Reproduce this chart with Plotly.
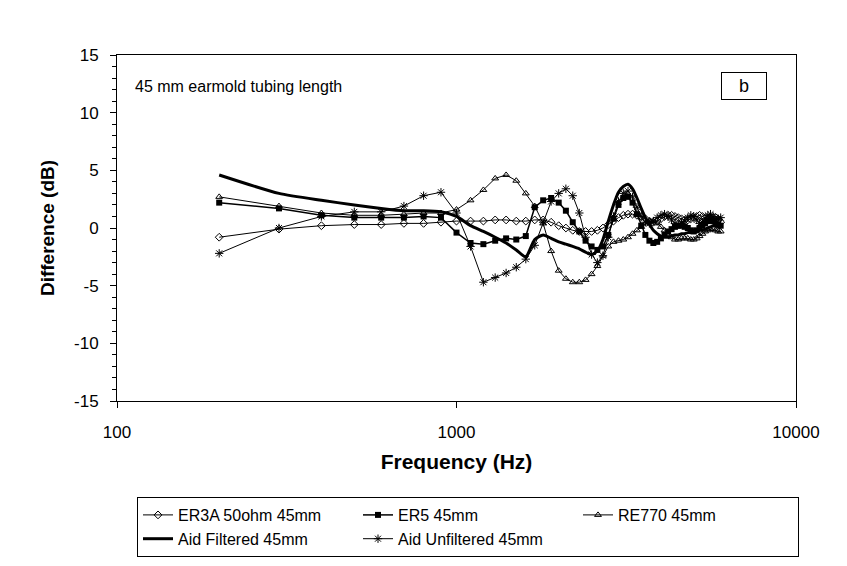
import plotly.graph_objects as go

freq = [200, 300, 400, 500, 600, 700, 800, 900, 1000, 1100, 1200, 1300, 1400, 1500,
        1600, 1700, 1800, 1900, 2000, 2100, 2200, 2300, 2400, 2500, 2600, 2700, 2800,
        2900, 3000, 3100, 3200, 3300, 3400, 3500, 3600, 3700, 3800, 3900, 4000, 4100,
        4200, 4300, 4400, 4500, 4600, 4700, 4800, 4900, 5000, 5100, 5200, 5300, 5400,
        5500, 5600, 5700, 5800, 5900, 6000]

er3a = [-0.8, -0.1, 0.2, 0.3, 0.3, 0.4, 0.4, 0.5, 0.6, 0.6, 0.6, 0.7, 0.7, 0.6,
        0.6, 0.7, 0.7, 0.5, 0.2, 0.0, -0.2, -0.3, -0.3, -0.3, -0.2, 0.0, 0.3,
        0.6, 0.9, 1.1, 1.2, 1.2, 1.1, 1.0, 0.8, 0.6, 0.5, 0.6, 0.8, 1.0,
        1.1, 1.1, 1.0, 0.9, 0.8, 0.7, 0.7, 0.8, 0.9, 1.0, 1.1, 1.0, 0.9,
        0.8, 0.8, 0.9, 0.9, 0.7, 0.5]

er5 = [2.2, 1.7, 1.1, 0.9, 0.9, 0.9, 1.0, 0.9, -0.4, -1.3, -1.4, -1.1, -0.9, -1.0,
       -0.7, 1.8, 2.4, 2.6, 2.2, 1.5, 0.5, -0.3, -1.1, -1.6, -1.9, -1.6, -0.6,
       0.8, 2.0, 2.6, 2.7, 2.2, 1.2, 0.2, -0.6, -1.1, -1.3, -1.2, -0.9, -0.6,
       -0.3, -0.1, 0.1, 0.2, 0.2, 0.1, 0.0, -0.2, -0.3, -0.2, 0.0, 0.2, 0.4,
       0.6, 0.7, 0.6, 0.4, 0.3, 0.2]

re770 = [2.7, 1.9, 1.3, 1.1, 1.1, 1.2, 1.3, 1.3, 1.6, 2.4, 3.3, 4.3, 4.6, 4.1,
         3.0, 1.9, 0.4, -2.0, -3.7, -4.4, -4.7, -4.7, -4.5, -4.0, -3.3, -2.4, -1.6,
         -1.2, -1.1, -1.0, -0.8, -0.5, -0.2, 0.1, 0.4, 0.6, 0.6, 0.4, 0.1, -0.2,
         -0.5, -0.8, -1.0, -1.0, -0.9, -0.9, -0.9, -1.0, -1.0, -0.9, -0.7, -0.5, -0.3,
         -0.2, -0.1, -0.1, -0.2, -0.3, -0.3]

aid_filtered = [4.6, 3.0, 2.4, 2.0, 1.7, 1.5, 1.5, 1.4, 1.0, 0.2, -0.3, -0.8, -1.3, -1.9,
                -2.5, -1.0, -0.6, -0.9, -1.2, -1.4, -1.6, -1.8, -2.1, -2.3, -2.0, -1.0, 0.6,
                2.0, 3.1, 3.6, 3.8, 3.4, 2.6, 1.7, 0.9, 0.3, -0.2, -0.5, -0.7, -0.8,
                -0.8, -0.7, -0.6, -0.6, -0.5, -0.5, -0.4, -0.4, -0.3, -0.3, -0.2, -0.2, -0.1,
                0.0, 0.1, 0.2, 0.2, 0.1, 0.0]

aid_unfiltered = [-2.2, 0.0, 1.0, 1.4, 1.4, 1.9, 2.8, 3.1, 1.3, -1.6, -4.7, -4.3, -3.9, -3.4,
                  -2.7, -1.5, 0.5, 2.3, 3.0, 3.4, 2.8, 1.3, -0.8, -2.3, -3.0, -2.4, -0.8,
                  1.0, 2.3, 3.0, 3.2, 2.7, 1.8, 1.0, 0.5, 0.4, 0.6, 0.9, 1.1, 1.2,
                  1.0, 0.7, 0.4, 0.3, 0.4, 0.6, 0.9, 1.1, 1.0, 0.7, 0.4, 0.5, 0.8,
                  1.1, 1.2, 1.0, 0.7, 0.8, 0.9]

names = ["ER3A 50ohm 45mm", "ER5 45mm", "RE770 45mm", "Aid Filtered 45mm", "Aid Unfiltered 45mm"]

y_ticks = [-15, -10, -5, 0, 5, 10, 15]
y_ticktext = ["-15", "-10", "-5", "0", "5", "10", "15"]
x_ticks = [100, 1000, 10000]
x_ticktext = ["100", "1000", "10000"]

FONT = "Liberation Sans, Arial, sans-serif"
fig = go.Figure()

fig.add_trace(go.Scatter(x=freq, y=er3a, name=names[0], mode="lines+markers",
                         line=dict(color="black", width=1),
                         marker=dict(symbol="diamond-open", size=6, color="black",
                                     line=dict(color="black", width=1))))
fig.add_trace(go.Scatter(x=freq, y=er5, name=names[1], mode="lines+markers",
                         line=dict(color="black", width=1.5),
                         marker=dict(symbol="square", size=6, color="black")))
fig.add_trace(go.Scatter(x=freq, y=re770, name=names[2], mode="lines+markers",
                         line=dict(color="black", width=1),
                         marker=dict(symbol="triangle-up-open", size=6, color="black",
                                     line=dict(color="black", width=1))))
fig.add_trace(go.Scatter(x=freq, y=aid_filtered, name=names[3], mode="lines",
                         line=dict(color="black", width=3, shape="spline", smoothing=0.6)))
fig.add_trace(go.Scatter(x=freq, y=aid_unfiltered, name=names[4], mode="lines+markers",
                         line=dict(color="black", width=1),
                         marker=dict(symbol="asterisk-open", size=7, color="black",
                                     line=dict(color="black", width=1))))

fig.update_layout(
    width=847, height=566,
    margin=dict(l=117, r=51, t=55, b=165),
    paper_bgcolor="white", plot_bgcolor="white",
    font=dict(family=FONT, color="black", size=15),
    showlegend=True,
    legend=dict(orientation="h", xref="container", yref="container",
                x=137 / 847, y=1 - 497 / 566, xanchor="left", yanchor="top",
                entrywidth=175, entrywidthmode="pixels",
                bordercolor="black", borderwidth=1, bgcolor="white",
                font=dict(size=16, family=FONT), itemwidth=30,
                traceorder="normal"),
    annotations=[
        dict(text="45 mm earmold tubing length", x=(133 - 117) / 679, y=(401 - 87) / 346,
             xref="paper", yref="paper", xanchor="left", yanchor="middle",
             showarrow=False, font=dict(size=16, family=FONT)),
        dict(text="b", x=(744 - 117) / 679, y=(401 - 86) / 346,
             xref="paper", yref="paper", xanchor="center", yanchor="middle",
             showarrow=False, font=dict(size=18, family=FONT),
             bordercolor="black", borderwidth=1, borderpad=3, width=38, height=20,
             bgcolor="white"),
    ],
)

fig.update_xaxes(type="log", range=[2, 4], tickvals=x_ticks, ticktext=x_ticktext,
                 showline=True, linecolor="black", linewidth=1, mirror=True,
                 ticks="outside", ticklen=6, tickcolor="black",
                 showgrid=False, zeroline=False,
                 tickfont=dict(size=17, family=FONT),
                 ticklabelstandoff=10,
                 title=dict(text="<b>Frequency (Hz)</b>", font=dict(size=21, family=FONT),
                            standoff=12))
fig.update_yaxes(range=[-15, 15], tickvals=y_ticks, ticktext=y_ticktext,
                 showline=True, linecolor="black", linewidth=1, mirror=True,
                 ticks="outside", ticklen=6, tickcolor="black",
                 minor=dict(dtick=1, tick0=0, ticks="outside", ticklen=4, tickcolor="black", showgrid=False),
                 showgrid=False, zeroline=False,
                 tickfont=dict(size=17, family=FONT),
                 ticklabelstandoff=8,
                 title=dict(text="<b>Difference (dB)</b>", font=dict(size=19, family=FONT),
                            standoff=14))

fig.write_html("out.html")
